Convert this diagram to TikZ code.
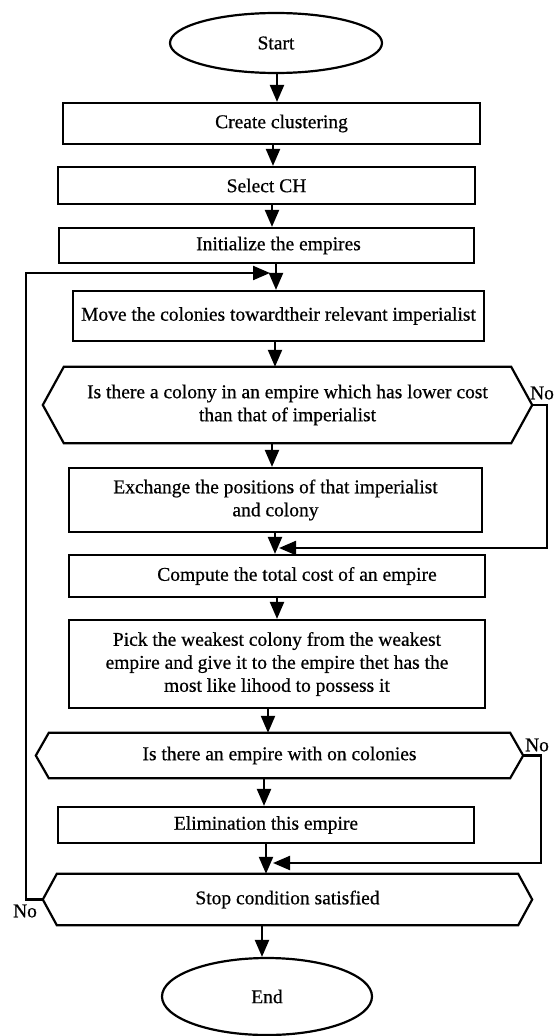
\documentclass[tikz,border=0pt]{standalone}
\usepackage{fontspec}
\setmainfont{Liberation Serif}[FakeBold=0.6]
\usetikzlibrary{shapes.geometric,arrows.meta}
\tikzset{
  every node/.style={font=\fontsize{19.5}{23}\selectfont},
  box/.style={draw, line width=2.2pt, rectangle, align=center, inner sep=1pt},
  term/.style={draw, line width=2.2pt, ellipse, inner sep=0pt},
  hexa/.style={rectangle, align=center, inner sep=0pt},
  line/.style={line width=2.2pt},
  arr/.style={line width=2.2pt, -{Triangle[length=17pt,width=14pt]}}
}
% outline of a decision node: name, cut of the corners
\newcommand{\hexline}[2]{\draw[line] (#1.west) -- ([xshift=#2]#1.north west) -- ([xshift=-#2]#1.north east) -- (#1.east) -- ([xshift=-#2]#1.south east) -- ([xshift=#2]#1.south west) -- cycle;}
\begin{document}
\begin{tikzpicture}[x=1pt,y=-1pt]
\useasboundingbox (0,0) rectangle (557,1036);
% steps
\node[term, minimum width=212, minimum height=60] (start) at (276,43) {Start};
\node[box, minimum width=417, minimum height=41] (cc) at (271.5,123.5) {\hspace*{20pt}Create clustering};
\node[box, minimum width=417, minimum height=37] (sel) at (266.5,185.5) {Select CH};
\node[box, minimum width=415, minimum height=35] (init) at (266.5,245.5) {\hspace*{24pt}Initialize the empires};
\node[box, minimum width=411, minimum height=50] (move) at (278.5,316) {Move the colonies towardtheir relevant imperialist};
\node[hexa, minimum width=489, minimum height=76] (d1) at (287.5,405) {Is there a colony in an empire which has lower cost\\than that of imperialist};
\node[box, minimum width=413, minimum height=64] (exch) at (275.5,500) {Exchange the positions of that imperialist\\and colony};
\node[box, minimum width=416, minimum height=42] (comp) at (277,576) {\hspace*{40pt}Compute the total cost of an empire};
\node[box, minimum width=416, minimum height=88] (pick) at (277,664) {Pick the weakest colony from the weakest\\empire and give it to the empire thet has the\\most like lihood to possess it};
\node[hexa, minimum width=487, minimum height=45] (d2) at (279.5,755.5) {Is there an empire with on colonies};
\node[box, minimum width=416, minimum height=36] (elim) at (266,825) {Elimination this empire};
\node[hexa, minimum width=489, minimum height=51] (stop) at (287.5,899.5) {Stop condition satisfied};
\node[term, minimum width=210, minimum height=77] (end) at (267,996.5) {End};
\hexline{d1}{21pt}
\hexline{d2}{13pt}
\hexline{stop}{14pt}
% labels
\node (no1) at (542,393) {No};
\node (no2) at (537,745) {No};
\node (no3) at (25,911) {No};
% flow
\draw[arr] (start.south -| 277,0) -- (cc.north -| 277,0);
\draw[arr] (cc.south -| 273,0) -- (sel.north -| 273,0);
\draw[arr] (sel.south -| 272,0) -- (init.north -| 272,0);
\draw[arr] (init.south -| 276,0) -- (move.north -| 276,0);
\draw[arr] (move.south -| 275,0) -- (d1.north -| 275,0);
\draw[arr] (d1.south -| 272,0) -- (exch.north -| 272,0);
\draw[arr] (exch.south -| 275,0) -- (comp.north -| 275,0);
\draw[arr] (comp.south -| 277,0) -- (pick.north -| 277,0);
\draw[arr] (pick.south -| 268,0) -- (d2.north -| 268,0);
\draw[arr] (d2.south -| 264,0) -- (elim.north -| 264,0);
\draw[arr] (elim.south -| 266,0) -- (stop.north -| 266,0);
\draw[arr] (stop.south -| 262,0) -- (end.north -| 262,0);
% back branches
\coordinate (j1) at (279,548);
\coordinate (j2) at (273,863);
\coordinate (loop) at (270,273);
\draw[arr] (d1.east) -- ++(15,0) |- (j1);
\draw[arr] (d2.east) -- ++(18,0) |- (j2);
\draw[arr] (stop.west) -- ++(-17,0) |- (loop);
\end{tikzpicture}
\end{document}
